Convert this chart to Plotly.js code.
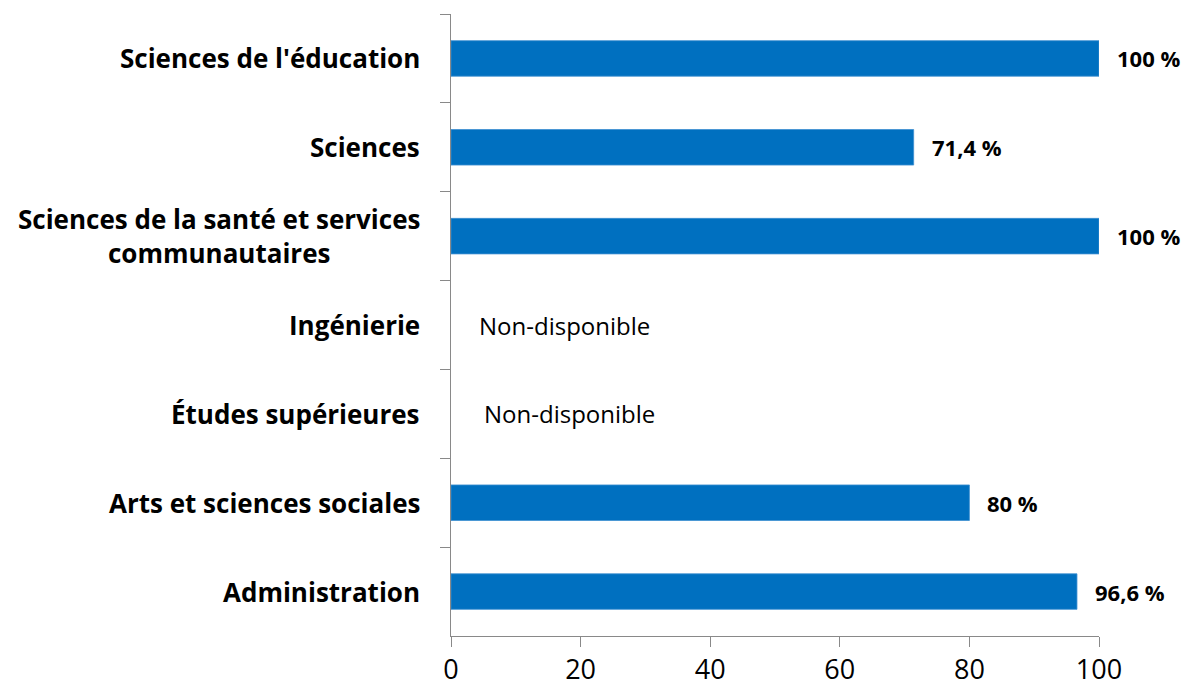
<!DOCTYPE html>
<html>
<head>
<meta charset="utf-8">
<script src="https://cdn.plot.ly/plotly-3.0.1.min.js"></script>
<style>
  html, body { margin: 0; padding: 0; background: #ffffff; }
  #chart { width: 1184px; height: 687px; }
</style>
</head>
<body>
<div id="chart"></div>
<script>
// Categories listed top to bottom
var categories = [
  "Sciences de l'éducation",
  "Sciences",
  "Sciences de la santé et services<br>communautaires",
  "Ingénierie",
  "Études supérieures",
  "Arts et sciences sociales",
  "Administration"
];
// Percentage values (null = non-disponible)
var values = [100, 71.4, 100, null, null, 80, 96.6];
var naText = "Non-disponible";
var xTickValues = [0, 20, 40, 60, 80, 100];

var FONT = "'Open Sans', 'Noto Sans', 'DejaVu Sans', sans-serif";
var AXIS_GRAY = "#898989";

function fmt(v) {
  return String(v).replace('.', ',') + ' %';
}

var trace = {
  type: 'bar',
  orientation: 'h',
  y: categories,
  x: values,
  marker: { color: '#0070C0', line: { color: '#3d8fd1', width: 0.8 } },
  hoverinfo: 'skip'
};

var annotations = [];
categories.forEach(function (c, i) {
  // category label
  annotations.push({
    xref: 'paper', yref: 'y',
    x: 0, y: c,
    xanchor: 'right', yanchor: 'middle',
    xshift: -29,
    align: 'center',
    showarrow: false,
    text: '<b>' + c + '</b>',
    font: { family: FONT, size: 26, color: '#000000' }
  });
  // value label
  var v = values[i];
  if (v === null) {
    annotations.push({
      xref: 'x', yref: 'y',
      x: 0, y: c,
      xanchor: 'left', yanchor: 'middle',
      xshift: (i === 3 ? 26 : 31),
      showarrow: false,
      text: naText,
      font: { family: FONT, size: 24, color: '#000000' }
    });
  } else {
    annotations.push({
      xref: 'x', yref: 'y',
      x: v, y: c,
      xanchor: 'left', yanchor: 'middle',
      xshift: 16,
      showarrow: false,
      text: '<b>' + fmt(v) + '</b>',
      font: { family: FONT, size: 22, color: '#000000' }
    });
  }
});

var layout = {
  width: 1184,
  height: 687,
  margin: { l: 451, r: 85, t: 14, b: 51, pad: 0 },
  paper_bgcolor: '#ffffff',
  plot_bgcolor: '#ffffff',
  showlegend: false,
  bargap: 0.6,
  xaxis: {
    range: [0, 100],
    tickmode: 'array',
    tickvals: xTickValues,
    ticktext: xTickValues.map(String),
    ticks: 'outside',
    ticklen: 10,
    tickwidth: 1,
    tickcolor: AXIS_GRAY,
    showline: true,
    linecolor: AXIS_GRAY,
    linewidth: 1,
    showgrid: false,
    zeroline: false,
    tickfont: { family: FONT, size: 27, color: '#000000' }
  },
  yaxis: {
    type: 'category',
    autorange: 'reversed',
    ticks: 'outside',
    tickson: 'boundaries',
    ticklen: 10,
    tickwidth: 1,
    tickcolor: AXIS_GRAY,
    showline: true,
    linecolor: AXIS_GRAY,
    linewidth: 1,
    showgrid: false,
    zeroline: false,
    showticklabels: false
  },
  annotations: annotations
};

Plotly.newPlot('chart', [trace], layout, { displayModeBar: false, staticPlot: true });
</script>
</body>
</html>
